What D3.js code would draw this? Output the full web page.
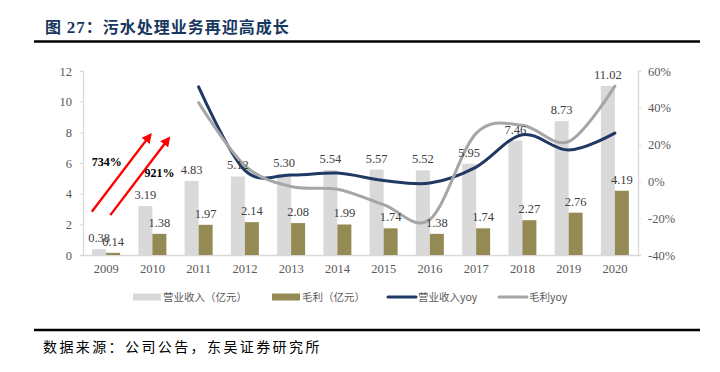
<!DOCTYPE html>
<html>
<head>
<meta charset="utf-8">
<script src="https://cdn.jsdelivr.net/npm/d3@7"></script>
<style>
  body { margin: 0; background: #fff; }
  svg { display: block; }
</style>
</head>
<body>
<div id="chart"></div>
<script>
// data
var years = ["2009","2010","2011","2012","2013","2014","2015","2016","2017","2018","2019","2020"];
var revenue = [0.38, 3.19, 4.83, 5.12, 5.30, 5.54, 5.57, 5.52, 5.95, 7.46, 8.73, 11.02];
var grossProfit = [0.14, 1.38, 1.97, 2.14, 2.08, 1.99, 1.74, 1.38, 1.74, 2.27, 2.76, 4.19];
// yoy in %, first two years not drawn
var revenueYoy = [null, null, 51.4, 6.0, 3.5, 4.5, 0.5, -0.9, 7.8, 25.4, 17.0, 26.2];
var grossYoy = [null, null, 42.8, 8.6, -2.8, -4.3, -12.6, -20.7, 26.1, 30.5, 21.6, 51.8];
var leftTicks = [0, 2, 4, 6, 8, 10, 12];
var rightTicks = [-40, -20, 0, 20, 40, 60];
var legendNames = ["营业收入（亿元）", "毛利（亿元）", "营业收入yoy", "毛利yoy"];
// growth annotations: [label, from year, to year]
var growthNotes = [["734%", "2009", "2010"], ["921%", "2009", "2010"]];

var width = 720, height = 372;
var serif = "'Liberation Serif', 'Times New Roman', serif";
var cjk = "'Noto Sans CJK SC', sans-serif";
var colLight = "#d9d9d9", colDark = "#948a54", colNavy = "#1f3864", colGrey = "#a6a6a6";
var txtCol = "#595959";

var svg = d3.select("#chart").append("svg")
  .attr("width", width)
  .attr("height", height);

var defs = svg.append("defs");
defs.append("marker")
  .attr("id", "redhead")
  .attr("viewBox", "0 0 10 10")
  .attr("refX", 8).attr("refY", 5)
  .attr("markerWidth", 4.2).attr("markerHeight", 4.2)
  .attr("markerUnits", "strokeWidth")
  .attr("orient", "auto")
  .append("path")
  .attr("d", "M0,0L10,5L0,10z")
  .attr("fill", "#ff0000");

// title
var title = svg.append("text")
  .attr("x", 45).attr("y", 33)
  .attr("fill", "#17375e")
  .style("font-size", "16px")
  .style("letter-spacing", "1px")
  .style("font-weight", "bold");
title.append("tspan").style("font-family", cjk).text("图 ");
title.append("tspan").style("font-family", serif).style("font-size", "17px").text("27");
title.append("tspan").style("font-family", cjk).text("：污水处理业务再迎高成长");

svg.append("line")
  .attr("x1", 34).attr("x2", 700)
  .attr("y1", 41.5).attr("y2", 41.5)
  .attr("stroke", "#000").attr("stroke-width", 2.5);

svg.append("line")
  .attr("x1", 34).attr("x2", 700)
  .attr("y1", 330).attr("y2", 330)
  .attr("stroke", "#000").attr("stroke-width", 2.5);

svg.append("text")
  .attr("x", 43).attr("y", 352)
  .style("font-family", cjk)
  .style("font-size", "14px")
  .style("letter-spacing", "2.4px")
  .attr("fill", "#000")
  .text("数据来源：公司公告，东吴证券研究所");

// scales
var plotL = 83, plotR = 638, plotT = 71, plotB = 255;

var x = d3.scaleBand()
  .domain(years)
  .range([plotL, plotR]);

var y = d3.scaleLinear().domain([0, 12]).range([plotB, plotT]);
var y2 = d3.scaleLinear().domain([-40, 60]).range([plotB, plotT]);

var barW = 14;

// axes
var gLeft = svg.append("g").attr("transform", "translate(" + plotL + ",0)")
  .call(d3.axisLeft(y).tickValues(leftTicks).tickSize(3).tickPadding(8));
var gRight = svg.append("g").attr("transform", "translate(" + plotR + ",0)")
  .call(d3.axisRight(y2).tickValues(rightTicks).tickSize(3).tickPadding(7)
    .tickFormat(function(d) { return d + "%"; }));
var gBottom = svg.append("g").attr("transform", "translate(0," + plotB + ")")
  .call(d3.axisBottom(x).tickSize(0).tickPadding(9));

[gLeft, gRight, gBottom].forEach(function(g) {
  g.select(".domain").attr("stroke", colLight).attr("stroke-width", 1.3);
  g.selectAll(".tick line").attr("stroke", colLight);
  g.selectAll("text")
    .style("font-family", serif)
    .style("font-size", "12.5px")
    .attr("fill", txtCol);
});

// bars
svg.append("g").selectAll("rect")
  .data(revenue)
  .enter().append("rect")
  .attr("x", function(d, i) { return x(years[i]) + x.bandwidth() / 2 - barW; })
  .attr("y", function(d) { return y(d); })
  .attr("width", barW)
  .attr("height", function(d) { return plotB - y(d); })
  .attr("fill", colLight);

svg.append("g").selectAll("rect")
  .data(grossProfit)
  .enter().append("rect")
  .attr("x", function(d, i) { return x(years[i]) + x.bandwidth() / 2; })
  .attr("y", function(d) { return y(d); })
  .attr("width", barW)
  .attr("height", function(d) { return plotB - y(d); })
  .attr("fill", colDark);

// lines
var line = d3.line()
  .defined(function(d) { return d != null; })
  .x(function(d, i) { return x(years[i]) + x.bandwidth() / 2; })
  .y(function(d) { return y2(d); })
  .curve(d3.curveCardinal.tension(0));

svg.append("path")
  .datum(revenueYoy)
  .attr("d", line)
  .attr("fill", "none")
  .attr("stroke", colNavy)
  .attr("stroke-width", 3)
  .attr("stroke-linecap", "round");

svg.append("path")
  .datum(grossYoy)
  .attr("d", line)
  .attr("fill", "none")
  .attr("stroke", colGrey)
  .attr("stroke-width", 3)
  .attr("stroke-linecap", "round");

// bar labels
function addLabels(vals, offset) {
  svg.append("g").selectAll("text")
    .data(vals)
    .enter().append("text")
    .attr("x", function(d, i) { return x(years[i]) + x.bandwidth() / 2 + offset; })
    .attr("y", function(d) { return y(d) - 7; })
    .attr("text-anchor", "middle")
    .style("font-family", serif)
    .style("font-size", "12.5px")
    .attr("fill", "#404040")
    .text(function(d) { return d.toFixed(2); });
}
addLabels(revenue, -barW / 2);
addLabels(grossProfit, barW / 2);

// red growth arrows
var bw = x.bandwidth();
var arrowDefs = [
  { from: [-0.31, 2.82], to: [-0.04, 7.85], label: [-0.31, 5.8] },
  { from: [0.09, 2.6], to: [0.36, 7.63], label: [0.83, 5.1] }
];
growthNotes.forEach(function(n, i) {
  var a = arrowDefs[i];
  var c0 = x(n[1]) + bw / 2, c1 = x(n[2]) + bw / 2;
  svg.append("line")
    .attr("x1", c0 + a.from[0] * bw).attr("y1", y(a.from[1]))
    .attr("x2", c1 + a.to[0] * bw).attr("y2", y(a.to[1]))
    .attr("stroke", "#ff0000")
    .attr("stroke-width", 2.4)
    .attr("marker-end", "url(#redhead)");
  svg.append("text")
    .attr("x", c0 + a.label[0] * bw)
    .attr("y", y(a.label[1]))
    .style("font-family", serif)
    .style("font-size", "12px")
    .style("font-weight", "bold")
    .attr("fill", "#000")
    .text(n[0]);
});

// legend
var legendX = [133, 272, 388, 499];
var lg = svg.append("g");
legendNames.forEach(function(name, i) {
  var g = lg.append("g").attr("transform", "translate(" + legendX[i] + ",297)");
  if (i < 2) {
    g.append("rect").attr("x", 0).attr("y", -3.5).attr("width", 28).attr("height", 7)
      .attr("fill", i === 0 ? colLight : colDark);
  } else {
    g.append("line").attr("x1", 0).attr("x2", 28).attr("y1", 0).attr("y2", 0)
      .attr("stroke", i === 2 ? colNavy : colGrey).attr("stroke-width", 3)
      .attr("stroke-linecap", "round");
  }
  g.append("text")
    .attr("x", 30).attr("y", 4)
    .style("font-family", cjk)
    .style("font-size", "10.5px")
    .attr("fill", txtCol)
    .text(name);
});
</script>
</body>
</html>
